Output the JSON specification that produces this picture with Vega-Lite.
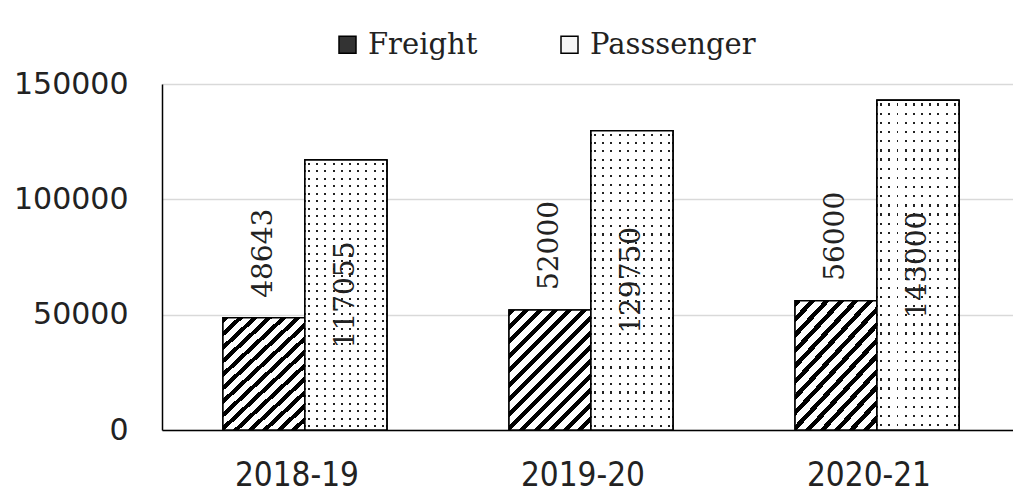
{
  "$schema": "https://vega.github.io/schema/vega-lite/v6.json",
  "width": 851,
  "height": 346,
  "autosize": {"type": "none"},
  "padding": {"left": 162, "top": 84, "right": 0, "bottom": 67},
  "background": "white",
  "config": {"view": {"stroke": null}},
  "data": {
    "values": [
      {"year": "2018-19", "type": "Freight", "value": 48643},
      {"year": "2018-19", "type": "Passsenger", "value": 117055},
      {"year": "2019-20", "type": "Freight", "value": 52000},
      {"year": "2019-20", "type": "Passsenger", "value": 129750},
      {"year": "2020-21", "type": "Freight", "value": 56000},
      {"year": "2020-21", "type": "Passsenger", "value": 143000}
    ]
  },
  "encoding": {
    "x": {
      "field": "year",
      "type": "nominal",
      "title": null,
      "scale": {"paddingInner": 0.427, "paddingOuter": 0.201, "align": 0.53},
      "axis": {
        "labelAngle": 0,
        "labelFont": "DejaVu Sans Condensed, DejaVu Sans, sans-serif",
        "labelFontSize": 33,
        "labelColor": "#222",
        "labelPadding": 29,
        "labelOffset": -8,
        "ticks": false,
        "tickSize": 0,
        "domainColor": "black",
        "domainWidth": 1.5,
        "grid": false
      }
    },
    "xOffset": {
      "field": "type",
      "type": "nominal",
      "scale": {"domain": ["Freight", "Passsenger"], "paddingInner": 0, "paddingOuter": 0}
    }
  },
  "layer": [
    {
      "mark": {"type": "bar", "stroke": "black", "strokeWidth": 1.5},
      "encoding": {
        "y": {
          "field": "value",
          "type": "quantitative",
          "title": null,
          "scale": {"domain": [0, 150000], "nice": false},
          "axis": {
            "values": [0, 50000, 100000, 150000],
            "format": "d",
            "labelFont": "DejaVu Sans",
            "labelFontSize": 30,
            "labelColor": "#222",
            "labelPadding": 34,
            "ticks": false,
            "tickSize": 0,
            "domainColor": "black",
            "domainWidth": 1.5,
            "gridColor": "#d9d9d9",
            "gridWidth": 1.5
          }
        },
        "fill": {
          "field": "type",
          "type": "nominal",
          "scale": {"domain": ["Freight", "Passsenger"], "range": ["#333333", "#f6f6f6"]},
          "legend": {
            "orient": "none",
            "legendX": 171,
            "legendY": -54,
            "direction": "horizontal",
            "title": null,
            "symbolType": "square",
            "symbolSize": 289,
            "symbolStrokeColor": "black",
            "symbolStrokeWidth": 1.5,
            "symbolOpacity": 1,
            "labelFont": "DejaVu Serif",
            "labelFontSize": 29,
            "labelColor": "#222",
            "labelOffset": 6,
            "columnPadding": 77,
            "labelLimit": 400,
            "encode": {
              "symbols": {
                "update": {
                  "stroke": {"value": "black"},
                  "strokeWidth": {"value": 1.5}
                }
              }
            }
          }
        }
      }
    },
    {
      "mark": {"type": "bar", "stroke": "black", "strokeWidth": 1.5},
      "encoding": {
        "y": {"field": "value", "type": "quantitative", "scale": {"domain": [0, 150000], "nice": false}, "axis": null},
        "fill": {
          "condition": {
            "test": "datum.type === 'Freight'",
            "value": {
              "gradient": "linear",
              "x1": 0, "y1": 0, "x2": 0.784, "y2": 1.148,
              "stops": [
                {"offset": 0, "color": "black"}, {"offset": 0.03, "color": "black"}, {"offset": 0.03, "color": "white"}, {"offset": 0.0714, "color": "white"},
                {"offset": 0.0714, "color": "black"}, {"offset": 0.1014, "color": "black"}, {"offset": 0.1014, "color": "white"}, {"offset": 0.1429, "color": "white"},
                {"offset": 0.1429, "color": "black"}, {"offset": 0.1729, "color": "black"}, {"offset": 0.1729, "color": "white"}, {"offset": 0.2143, "color": "white"},
                {"offset": 0.2143, "color": "black"}, {"offset": 0.2443, "color": "black"}, {"offset": 0.2443, "color": "white"}, {"offset": 0.2857, "color": "white"},
                {"offset": 0.2857, "color": "black"}, {"offset": 0.3157, "color": "black"}, {"offset": 0.3157, "color": "white"}, {"offset": 0.3571, "color": "white"},
                {"offset": 0.3571, "color": "black"}, {"offset": 0.3871, "color": "black"}, {"offset": 0.3871, "color": "white"}, {"offset": 0.4286, "color": "white"},
                {"offset": 0.4286, "color": "black"}, {"offset": 0.4586, "color": "black"}, {"offset": 0.4586, "color": "white"}, {"offset": 0.5, "color": "white"},
                {"offset": 0.5, "color": "black"}, {"offset": 0.53, "color": "black"}, {"offset": 0.53, "color": "white"}, {"offset": 0.5714, "color": "white"},
                {"offset": 0.5714, "color": "black"}, {"offset": 0.6014, "color": "black"}, {"offset": 0.6014, "color": "white"}, {"offset": 0.6429, "color": "white"},
                {"offset": 0.6429, "color": "black"}, {"offset": 0.6729, "color": "black"}, {"offset": 0.6729, "color": "white"}, {"offset": 0.7143, "color": "white"},
                {"offset": 0.7143, "color": "black"}, {"offset": 0.7443, "color": "black"}, {"offset": 0.7443, "color": "white"}, {"offset": 0.7857, "color": "white"},
                {"offset": 0.7857, "color": "black"}, {"offset": 0.8157, "color": "black"}, {"offset": 0.8157, "color": "white"}, {"offset": 0.8571, "color": "white"},
                {"offset": 0.8571, "color": "black"}, {"offset": 0.8871, "color": "black"}, {"offset": 0.8871, "color": "white"}, {"offset": 0.9286, "color": "white"},
                {"offset": 0.9286, "color": "black"}, {"offset": 0.9586, "color": "black"}, {"offset": 0.9586, "color": "white"}, {"offset": 1, "color": "white"}
              ]
            }
          },
          "value": {
            "gradient": "linear",
            "x1": 0, "y1": 0, "x2": 1, "y2": 0,
            "stops": [
              {"offset": 0, "color": "white"},
              {"offset": 0.038, "color": "white"}, {"offset": 0.038, "color": "#222"}, {"offset": 0.062, "color": "#222"}, {"offset": 0.062, "color": "white"},
              {"offset": 0.138, "color": "white"}, {"offset": 0.138, "color": "#222"}, {"offset": 0.162, "color": "#222"}, {"offset": 0.162, "color": "white"},
              {"offset": 0.238, "color": "white"}, {"offset": 0.238, "color": "#222"}, {"offset": 0.262, "color": "#222"}, {"offset": 0.262, "color": "white"},
              {"offset": 0.338, "color": "white"}, {"offset": 0.338, "color": "#222"}, {"offset": 0.362, "color": "#222"}, {"offset": 0.362, "color": "white"},
              {"offset": 0.438, "color": "white"}, {"offset": 0.438, "color": "#222"}, {"offset": 0.462, "color": "#222"}, {"offset": 0.462, "color": "white"},
              {"offset": 0.538, "color": "white"}, {"offset": 0.538, "color": "#222"}, {"offset": 0.562, "color": "#222"}, {"offset": 0.562, "color": "white"},
              {"offset": 0.638, "color": "white"}, {"offset": 0.638, "color": "#222"}, {"offset": 0.662, "color": "#222"}, {"offset": 0.662, "color": "white"},
              {"offset": 0.738, "color": "white"}, {"offset": 0.738, "color": "#222"}, {"offset": 0.762, "color": "#222"}, {"offset": 0.762, "color": "white"},
              {"offset": 0.838, "color": "white"}, {"offset": 0.838, "color": "#222"}, {"offset": 0.862, "color": "#222"}, {"offset": 0.862, "color": "white"},
              {"offset": 0.938, "color": "white"}, {"offset": 0.938, "color": "#222"}, {"offset": 0.962, "color": "#222"}, {"offset": 0.962, "color": "white"},
              {"offset": 1, "color": "white"}
            ]
          }
        }
      }
    },
    {
      "transform": [{"filter": {"field": "type", "equal": "Passsenger"}}],
      "mark": {
        "type": "bar",
        "stroke": "black",
        "strokeWidth": 1.5,
        "fill": {
          "gradient": "linear",
          "x1": 0, "y1": 0, "x2": 0, "y2": 1,
          "stops": [
            {"offset": 0, "color": "white"},
            {"offset": 0.010, "color": "white"}, {"offset": 0.010, "color": "rgba(255,255,255,0)"}, {"offset": 0.017, "color": "rgba(255,255,255,0)"}, {"offset": 0.017, "color": "white"},
            {"offset": 0.0378, "color": "white"}, {"offset": 0.0378, "color": "rgba(255,255,255,0)"}, {"offset": 0.0448, "color": "rgba(255,255,255,0)"}, {"offset": 0.0448, "color": "white"},
            {"offset": 0.0656, "color": "white"}, {"offset": 0.0656, "color": "rgba(255,255,255,0)"}, {"offset": 0.0726, "color": "rgba(255,255,255,0)"}, {"offset": 0.0726, "color": "white"},
            {"offset": 0.0933, "color": "white"}, {"offset": 0.0933, "color": "rgba(255,255,255,0)"}, {"offset": 0.1003, "color": "rgba(255,255,255,0)"}, {"offset": 0.1003, "color": "white"},
            {"offset": 0.1211, "color": "white"}, {"offset": 0.1211, "color": "rgba(255,255,255,0)"}, {"offset": 0.1281, "color": "rgba(255,255,255,0)"}, {"offset": 0.1281, "color": "white"},
            {"offset": 0.1489, "color": "white"}, {"offset": 0.1489, "color": "rgba(255,255,255,0)"}, {"offset": 0.1559, "color": "rgba(255,255,255,0)"}, {"offset": 0.1559, "color": "white"},
            {"offset": 0.1767, "color": "white"}, {"offset": 0.1767, "color": "rgba(255,255,255,0)"}, {"offset": 0.1837, "color": "rgba(255,255,255,0)"}, {"offset": 0.1837, "color": "white"},
            {"offset": 0.2044, "color": "white"}, {"offset": 0.2044, "color": "rgba(255,255,255,0)"}, {"offset": 0.2114, "color": "rgba(255,255,255,0)"}, {"offset": 0.2114, "color": "white"},
            {"offset": 0.2322, "color": "white"}, {"offset": 0.2322, "color": "rgba(255,255,255,0)"}, {"offset": 0.2392, "color": "rgba(255,255,255,0)"}, {"offset": 0.2392, "color": "white"},
            {"offset": 0.260, "color": "white"}, {"offset": 0.260, "color": "rgba(255,255,255,0)"}, {"offset": 0.267, "color": "rgba(255,255,255,0)"}, {"offset": 0.267, "color": "white"},
            {"offset": 0.2878, "color": "white"}, {"offset": 0.2878, "color": "rgba(255,255,255,0)"}, {"offset": 0.2948, "color": "rgba(255,255,255,0)"}, {"offset": 0.2948, "color": "white"},
            {"offset": 0.3156, "color": "white"}, {"offset": 0.3156, "color": "rgba(255,255,255,0)"}, {"offset": 0.3226, "color": "rgba(255,255,255,0)"}, {"offset": 0.3226, "color": "white"},
            {"offset": 0.3433, "color": "white"}, {"offset": 0.3433, "color": "rgba(255,255,255,0)"}, {"offset": 0.3503, "color": "rgba(255,255,255,0)"}, {"offset": 0.3503, "color": "white"},
            {"offset": 0.3711, "color": "white"}, {"offset": 0.3711, "color": "rgba(255,255,255,0)"}, {"offset": 0.3781, "color": "rgba(255,255,255,0)"}, {"offset": 0.3781, "color": "white"},
            {"offset": 0.3989, "color": "white"}, {"offset": 0.3989, "color": "rgba(255,255,255,0)"}, {"offset": 0.4059, "color": "rgba(255,255,255,0)"}, {"offset": 0.4059, "color": "white"},
            {"offset": 0.4267, "color": "white"}, {"offset": 0.4267, "color": "rgba(255,255,255,0)"}, {"offset": 0.4337, "color": "rgba(255,255,255,0)"}, {"offset": 0.4337, "color": "white"},
            {"offset": 0.4544, "color": "white"}, {"offset": 0.4544, "color": "rgba(255,255,255,0)"}, {"offset": 0.4614, "color": "rgba(255,255,255,0)"}, {"offset": 0.4614, "color": "white"},
            {"offset": 0.4822, "color": "white"}, {"offset": 0.4822, "color": "rgba(255,255,255,0)"}, {"offset": 0.4892, "color": "rgba(255,255,255,0)"}, {"offset": 0.4892, "color": "white"},
            {"offset": 0.510, "color": "white"}, {"offset": 0.510, "color": "rgba(255,255,255,0)"}, {"offset": 0.517, "color": "rgba(255,255,255,0)"}, {"offset": 0.517, "color": "white"},
            {"offset": 0.5378, "color": "white"}, {"offset": 0.5378, "color": "rgba(255,255,255,0)"}, {"offset": 0.5448, "color": "rgba(255,255,255,0)"}, {"offset": 0.5448, "color": "white"},
            {"offset": 0.5656, "color": "white"}, {"offset": 0.5656, "color": "rgba(255,255,255,0)"}, {"offset": 0.5726, "color": "rgba(255,255,255,0)"}, {"offset": 0.5726, "color": "white"},
            {"offset": 0.5933, "color": "white"}, {"offset": 0.5933, "color": "rgba(255,255,255,0)"}, {"offset": 0.6003, "color": "rgba(255,255,255,0)"}, {"offset": 0.6003, "color": "white"},
            {"offset": 0.6211, "color": "white"}, {"offset": 0.6211, "color": "rgba(255,255,255,0)"}, {"offset": 0.6281, "color": "rgba(255,255,255,0)"}, {"offset": 0.6281, "color": "white"},
            {"offset": 0.6489, "color": "white"}, {"offset": 0.6489, "color": "rgba(255,255,255,0)"}, {"offset": 0.6559, "color": "rgba(255,255,255,0)"}, {"offset": 0.6559, "color": "white"},
            {"offset": 0.6767, "color": "white"}, {"offset": 0.6767, "color": "rgba(255,255,255,0)"}, {"offset": 0.6837, "color": "rgba(255,255,255,0)"}, {"offset": 0.6837, "color": "white"},
            {"offset": 0.7044, "color": "white"}, {"offset": 0.7044, "color": "rgba(255,255,255,0)"}, {"offset": 0.7114, "color": "rgba(255,255,255,0)"}, {"offset": 0.7114, "color": "white"},
            {"offset": 0.7322, "color": "white"}, {"offset": 0.7322, "color": "rgba(255,255,255,0)"}, {"offset": 0.7392, "color": "rgba(255,255,255,0)"}, {"offset": 0.7392, "color": "white"},
            {"offset": 0.760, "color": "white"}, {"offset": 0.760, "color": "rgba(255,255,255,0)"}, {"offset": 0.767, "color": "rgba(255,255,255,0)"}, {"offset": 0.767, "color": "white"},
            {"offset": 0.7878, "color": "white"}, {"offset": 0.7878, "color": "rgba(255,255,255,0)"}, {"offset": 0.7948, "color": "rgba(255,255,255,0)"}, {"offset": 0.7948, "color": "white"},
            {"offset": 0.8156, "color": "white"}, {"offset": 0.8156, "color": "rgba(255,255,255,0)"}, {"offset": 0.8226, "color": "rgba(255,255,255,0)"}, {"offset": 0.8226, "color": "white"},
            {"offset": 0.8433, "color": "white"}, {"offset": 0.8433, "color": "rgba(255,255,255,0)"}, {"offset": 0.8503, "color": "rgba(255,255,255,0)"}, {"offset": 0.8503, "color": "white"},
            {"offset": 0.8711, "color": "white"}, {"offset": 0.8711, "color": "rgba(255,255,255,0)"}, {"offset": 0.8781, "color": "rgba(255,255,255,0)"}, {"offset": 0.8781, "color": "white"},
            {"offset": 0.8989, "color": "white"}, {"offset": 0.8989, "color": "rgba(255,255,255,0)"}, {"offset": 0.9059, "color": "rgba(255,255,255,0)"}, {"offset": 0.9059, "color": "white"},
            {"offset": 0.9267, "color": "white"}, {"offset": 0.9267, "color": "rgba(255,255,255,0)"}, {"offset": 0.9337, "color": "rgba(255,255,255,0)"}, {"offset": 0.9337, "color": "white"},
            {"offset": 0.9544, "color": "white"}, {"offset": 0.9544, "color": "rgba(255,255,255,0)"}, {"offset": 0.9614, "color": "rgba(255,255,255,0)"}, {"offset": 0.9614, "color": "white"},
            {"offset": 0.9822, "color": "white"}, {"offset": 0.9822, "color": "rgba(255,255,255,0)"}, {"offset": 0.9892, "color": "rgba(255,255,255,0)"}, {"offset": 0.9892, "color": "white"},
            {"offset": 1, "color": "white"}
          ]
        }
      },
      "encoding": {
        "y": {"field": "value", "type": "quantitative", "scale": {"domain": [0, 150000], "nice": false}, "axis": null}
      }
    },
    {
      "transform": [{"filter": {"field": "type", "equal": "Freight"}}],
      "mark": {"type": "text", "angle": 270, "align": "left", "baseline": "middle", "dx": 20, "font": "DejaVu Serif", "fontSize": 28, "color": "#222"},
      "encoding": {
        "y": {"field": "value", "type": "quantitative", "scale": {"domain": [0, 150000], "nice": false}, "axis": null},
        "text": {"field": "value", "type": "quantitative", "format": "d"}
      }
    },
    {
      "transform": [{"filter": {"field": "type", "equal": "Passsenger"}}],
      "mark": {"type": "text", "angle": 270, "align": "center", "baseline": "middle", "font": "DejaVu Serif", "fontSize": 28, "color": "#222"},
      "encoding": {
        "y": {"field": "value", "type": "quantitative", "scale": {"domain": [0, 300000], "nice": false}, "axis": null},
        "text": {"field": "value", "type": "quantitative", "format": "d"}
      }
    }
  ],
  "resolve": {"scale": {"y": "independent"}}
}
